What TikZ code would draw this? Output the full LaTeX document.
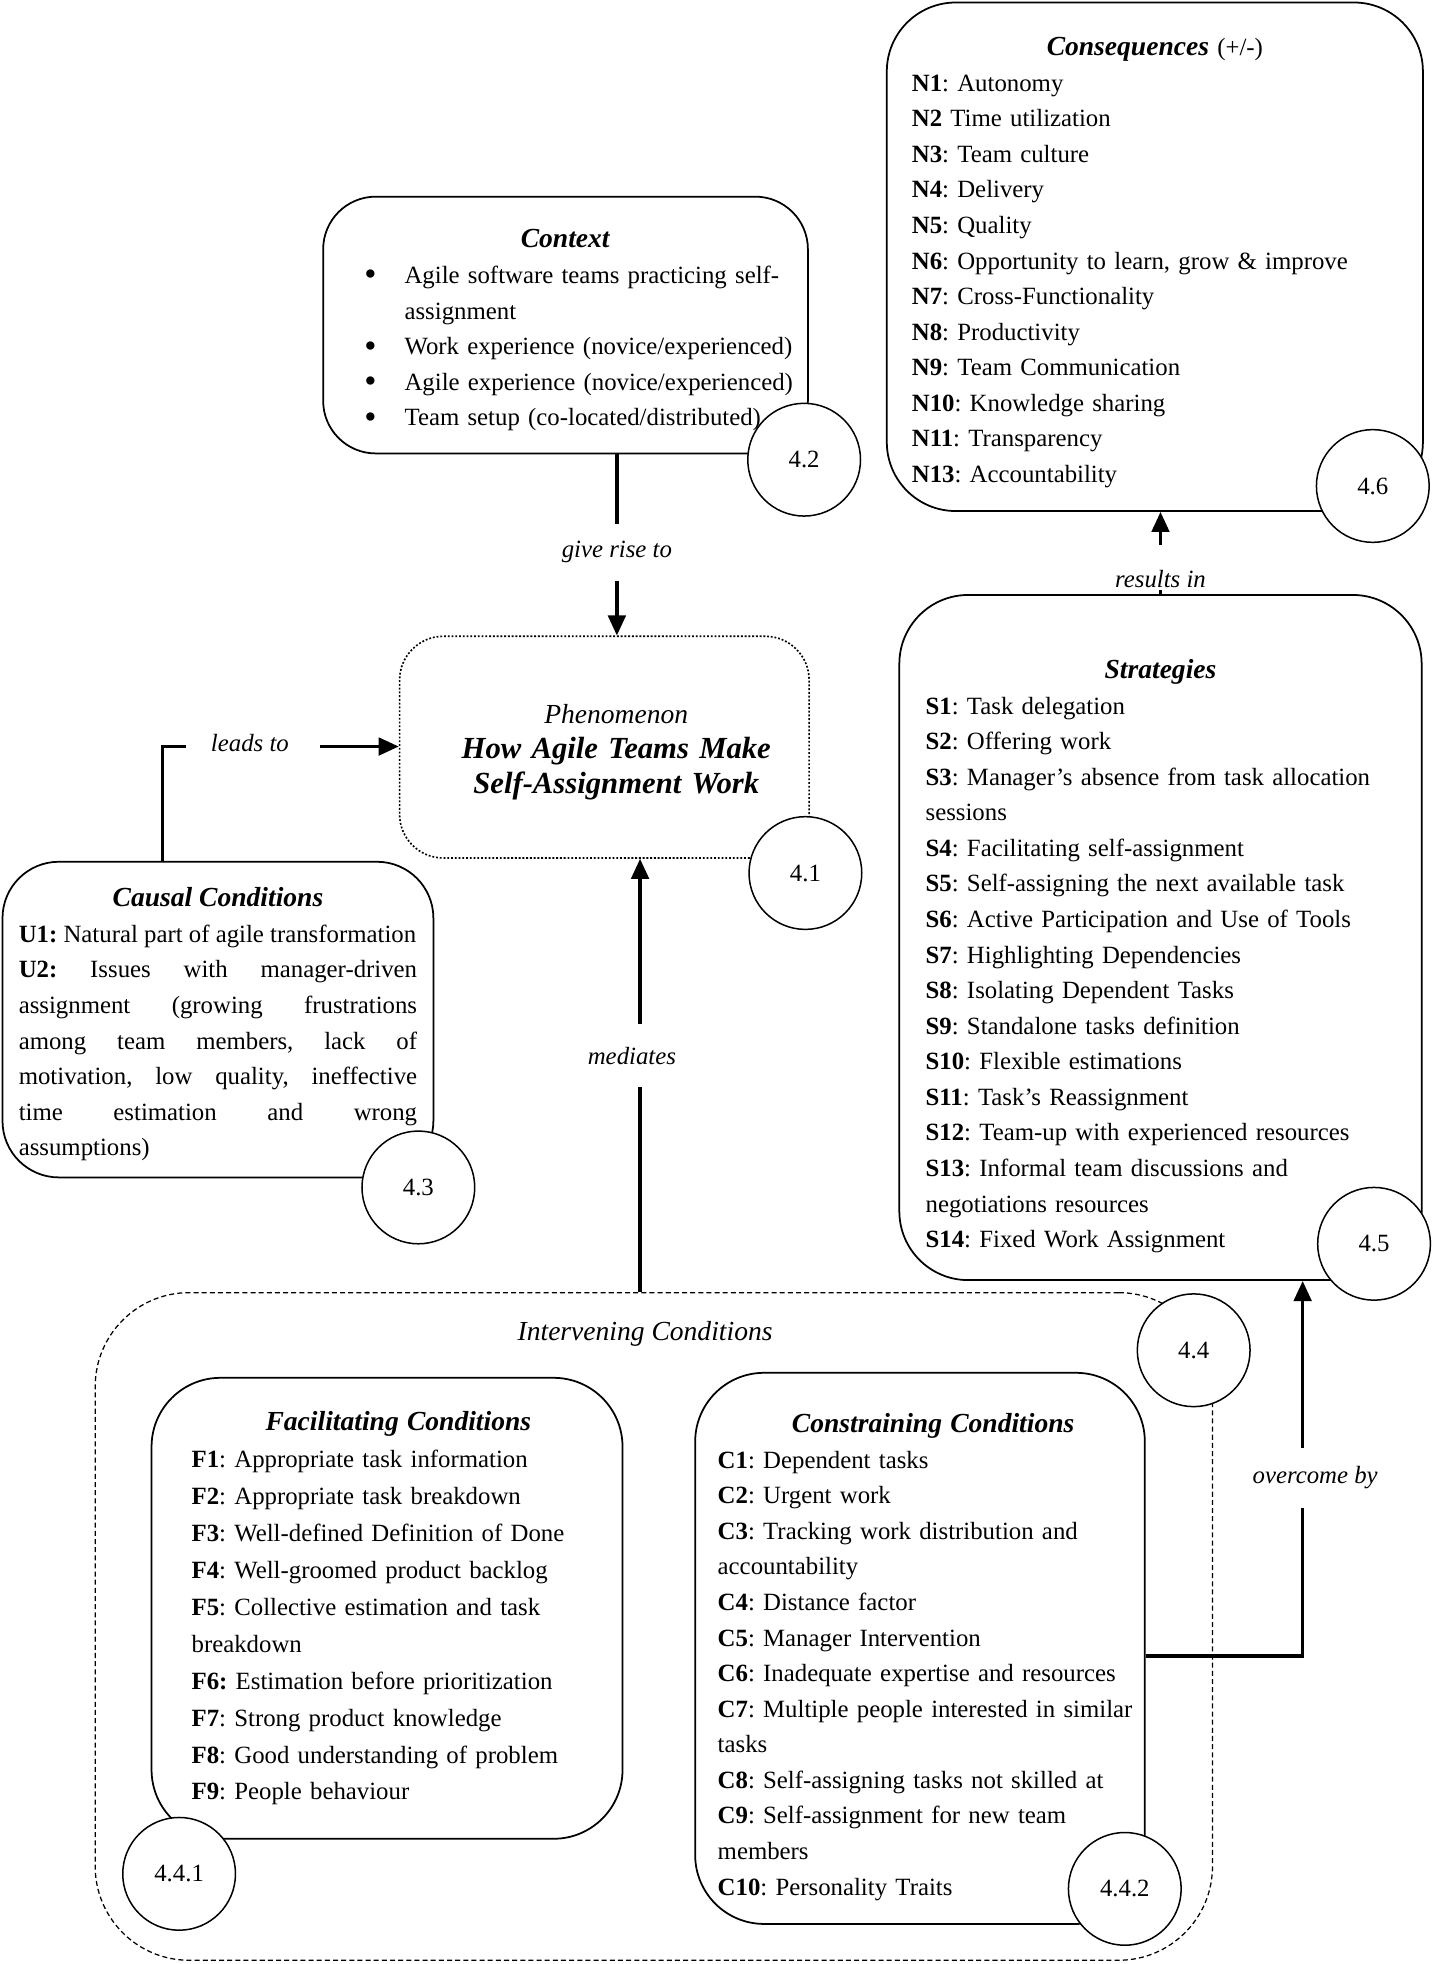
\documentclass[tikz,border=0pt]{standalone}
\usepackage{fontspec}
\setmainfont{Liberation Serif}
\usetikzlibrary{arrows.meta}
\setlength{\parindent}{0pt}
\frenchspacing
\newcommand{\itemsize}{\fontsize{19.8}{28.4}\selectfont}
\newcommand{\headsize}{\fontsize{22}{28.4}\selectfont}
\newcommand{\boxhead}[2][0pt]{\centerline{\rule{0pt}{#1}\headsize\textbf{\textit{#2}}}}
\newcommand{\ctxitem}[1]{\hspace*{23pt}\mbox{\makebox[32pt][l]{\raisebox{-2pt}{\scalebox{1.4}{\textbullet}}}#1}}
\begin{document}
\begin{tikzpicture}[x=1pt, y=-1pt,
	box/.style={draw, line width=1.4pt, rounded corners=55pt, font=\itemsize, align=left, inner ysep=0pt},
	num/.style={draw, circle, line width=1.2pt, fill=white, minimum size=90pt, inner sep=0pt, font=\itemsize},
	lbl/.style={font=\itemsize\itshape, inner xsep=22pt, inner ysep=15pt},
	con/.style={line width=2.6pt},
	arr/.style={con, -{Triangle[length=16pt, width=14pt]}}]
	\useasboundingbox (0,0) rectangle (1152,1568);
	\node[box, dash pattern=on 4pt off 2.5pt, line width=1pt, rounded corners=75pt, minimum width=892pt, minimum height=533pt] (interv) at (522,1298.5) {};
	\node[font=\headsize\itshape] (intervtitle) at (515,1065) {Intervening Conditions};
	\node[box, minimum width=428pt, minimum height=406pt, inner xsep=20pt, text width=388pt] (conseq) at (922,205) {\centerline{\rule{0pt}{24pt}\headsize\textbf{\textit{Consequences}} {\itemsize(+/-)}}
		\textbf{N1}: Autonomy\\
		\textbf{N2} Time utilization\\
		\textbf{N3}: Team culture\\
		\textbf{N4}: Delivery\\
		\textbf{N5}: Quality\\
		\textbf{N6}: Opportunity to learn, grow \& improve\\
		\textbf{N7}: Cross-Functionality\\
		\textbf{N8}: Productivity\\
		\textbf{N9}: Team Communication\\
		\textbf{N10}: Knowledge sharing\\
		\textbf{N11}: Transparency\\
		\textbf{N13}: Accountability};
	\node[box, rounded corners=42pt, minimum width=387pt, minimum height=205pt, inner xsep=10pt, text width=367pt] (context) at (451.5,259.5) {\boxhead[23pt]{Context}
		\ctxitem{Agile software teams practicing self-}\\
		\hspace*{55pt}assignment\\
		\ctxitem{Work experience (novice/experienced)}\\
		\ctxitem{Agile experience (novice/experienced)}\\
		\ctxitem{Team setup (co-located/distributed)}};
	\node[box, dash pattern=on 1.5pt off 1.5pt, line width=1.3pt, rounded corners=35pt, align=center, minimum width=327pt, minimum height=177pt, text width=300pt, font=\fontsize{24.5}{28}\selectfont] (phen) at (482.5,596.5) {\hspace*{19pt}\rule{0pt}{24pt}{\headsize\itshape Phenomenon}\\
		\hspace*{19pt}\textbf{\textit{How Agile Teams Make}}\\
		\hspace*{19pt}\textbf{\textit{Self-Assignment Work}}};
	\node[box, rounded corners=45pt, align=justify, minimum width=344pt, minimum height=252pt, inner xsep=13pt, text width=318pt] (causal) at (174,814) {\boxhead[23pt]{Causal Conditions}
		\mbox{\textbf{U1:} Natural part of agile transformation}\\
		\textbf{U2:} Issues with manager-driven\linebreak
		assignment (growing frustrations\linebreak
		among team members, lack of\linebreak
		motivation, low quality, ineffective\linebreak
		time estimation and wrong\linebreak
		assumptions)};
	\node[box, minimum width=417pt, minimum height=547pt, inner xsep=21pt, text width=375pt] (strat) at (926.5,748.5) {\boxhead[45pt]{Strategies}
		\textbf{S1}: Task delegation\\
		\textbf{S2}: Offering work\\
		\mbox{\textbf{S3}: Manager’s absence from task allocation}\\
		sessions\\
		\textbf{S4}: Facilitating self-assignment\\
		\textbf{S5}: Self-assigning the next available task\\
		\textbf{S6}: Active Participation and Use of Tools\\
		\textbf{S7}: Highlighting Dependencies\\
		\textbf{S8}: Isolating Dependent Tasks\\
		\textbf{S9}: Standalone tasks definition\\
		\textbf{S10}: Flexible estimations\\
		\textbf{S11}: Task’s Reassignment\\
		\mbox{\textbf{S12}: Team-up with experienced resources}\\
		\textbf{S13}: Informal team discussions and\\
		negotiations resources\\
		\textbf{S14}: Fixed Work Assignment};
	\node[box, minimum width=376pt, minimum height=368pt, inner xsep=32pt, text width=312pt, font=\fontsize{19.8}{29.5}\selectfont] (facil) at (309,1284) {\boxhead{\hspace*{18pt}Facilitating Conditions}
		\textbf{F1}: Appropriate task information\\
		\textbf{F2}: Appropriate task breakdown\\
		\mbox{\textbf{F3}: Well-defined Definition of Done}\\
		\textbf{F4}: Well-groomed product backlog\\
		\textbf{F5}: Collective estimation and task\\
		breakdown\\
		\textbf{F6:} Estimation before prioritization\\
		\textbf{F7}: Strong product knowledge\\
		\textbf{F8}: Good understanding of problem\\
		\textbf{F9}: People behaviour};
	\node[box, minimum width=359pt, minimum height=440pt, inner xsep=18pt, text width=323pt] (constr) at (734.5,1316) {\boxhead[29pt]{\hspace*{21pt}Constraining Conditions}
		\textbf{C1}: Dependent tasks\\
		\textbf{C2}: Urgent work\\
		\mbox{\textbf{C3}: Tracking work distribution and}\\
		accountability\\
		\textbf{C4}: Distance factor\\
		\textbf{C5}: Manager Intervention\\
		\mbox{\textbf{C6}: Inadequate expertise and resources}\\
		\mbox{\textbf{C7}: Multiple people interested in similar}\\
		tasks\\
		\mbox{\textbf{C8}: Self-assigning tasks not skilled at}\\
		\mbox{\textbf{C9}: Self-assignment for new team}\\
		members\\
		\textbf{C10}: Personality Traits};
	\node[lbl, inner ysep=14pt] (giverise) at (492.5,441) {give rise to};
	\draw[con] (context.south -| giverise) -- (giverise.north);
	\draw[arr] (giverise.south) -- (giverise.south |- phen.north);
	\coordinate (leadsbend) at (130,596);
	\node[lbl, inner xsep=20pt] (leadsto) at (199.5,593) {leads to};
	\draw[con] (causal.north -| leadsbend) -- (leadsbend) -- (leadsto.west |- leadsbend);
	\draw[arr] ([xshift=5pt]leadsto.east |- leadsbend) -- (leadsbend -| phen.west);
	\node[lbl, inner ysep=18pt] (mediates) at (504.5,843) {mediates};
	\draw[arr] ([xshift=6.5pt]mediates.north) -- ([xshift=6.5pt]mediates.north |- phen.south);
	\draw[con] ([xshift=6.5pt]mediates.south) -- ([xshift=6.5pt]mediates.south |- interv.north);
	\node[lbl, inner ysep=2pt] (resultsin) at (926.5,462) {results in};
	\draw[arr] ([yshift=18pt]resultsin.north) -- (resultsin.north |- conseq.south);
	\draw[con] (resultsin.south) -- (resultsin.south |- strat.north);
	\coordinate (overbend) at (1040,1322);
	\node[lbl] (overcome) at (1050,1180) {overcome by};
	\draw[con] (constr.east |- overbend) -- (overbend) -- (overbend |- overcome.south);
	\draw[arr] (overbend |- overcome.north) -- (overbend |- strat.south);
	\node[num] (n42) at (642,367) {4.2};
	\node[num] (n41) at (643,697) {4.1};
	\node[num] (n43) at (334,948) {4.3};
	\node[num] (n46) at (1096,388) {4.6};
	\node[num] (n45) at (1097,993) {4.5};
	\node[num] (n44) at (953,1078) {4.4};
	\node[num] (n441) at (143,1496) {4.4.1};
	\node[num] (n442) at (898,1508) {4.4.2};
\end{tikzpicture}
\end{document}
